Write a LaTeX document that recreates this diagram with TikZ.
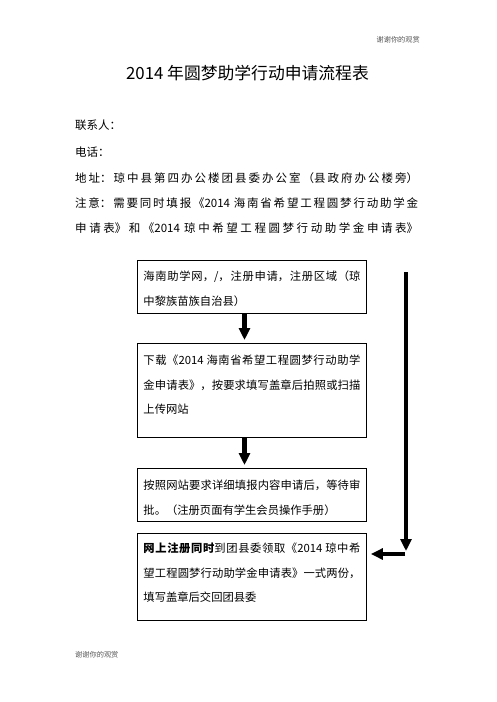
\documentclass[tikz,border=0pt]{standalone}
\usepackage{fontspec}
\setmainfont{Noto Sans CJK SC}
\usetikzlibrary{arrows.meta,positioning}
\XeTeXlinebreaklocale "zh"
\XeTeXlinebreakskip=0pt plus 2pt
\tolerance=10000
\hbadness=10000
\definecolor{pagenote}{RGB}{85,85,85}
\newcommand\fullline{\hspace{0pt plus -1fil}\null}

\begin{document}
\begin{tikzpicture}[
  x=1pt, y=-1pt,
  every node/.style={font=\fontsize{11.3}{24.6}\selectfont},
  flowbox/.style={draw, line width=0.9pt, anchor=north west, text width=217pt,
                  inner xsep=6pt, inner ysep=0pt, align=justify},
  infoline/.style={anchor=base west, inner sep=0pt, font=\fontsize{11.5}{25}\selectfont},
  spreadline/.style={infoline, text width=343pt, align=justify},
  pagenote/.style={inner sep=0pt, text=pagenote, font=\fontsize{7.2}{8}\selectfont},
  bigarrow/.style={line width=4.5pt, -{Triangle[width=11pt,length=12pt]}},
]
\useasboundingbox (0,0) rectangle (496,702);

% page header / footer
\node[pagenote, anchor=base east] (head) at (420,42.7) {谢谢你的观赏};
\node[pagenote, anchor=base west] (foot) at (75,657.7) {谢谢你的观赏};

\node[inner sep=0pt, anchor=base, font=\fontsize{16.8}{20}\selectfont] (title) at (247.5,79.4)
  {2014 年圆梦助学行动申请流程表};

% contact lines
\node[infoline] (contact) at (75,129.3) {联系人：};
\node[infoline] (phone) at (75,156.3) {电话：};
\node[spreadline] (addr) at (75,182.3) {地址：琼中县第四办公楼团县委办公室（县政府办公楼旁）\fullline};
\node[spreadline] (note) at (75,207.3) {注意：需要同时填报《2014 海南省希望工程圆梦行动助学金\linebreak
  申请表》和《2014 琼中希望工程圆梦行动助学金申请表》\fullline};

% flow boxes
\node[flowbox, text height=20.3pt, text depth=32.7pt] (reg) at (137,260)
  {海南助学网，/，注册申请，注册区域（琼\linebreak 中黎族苗族自治县）};
\node[flowbox, text height=21.3pt, text depth=72.7pt] (dl) at (137,343)
  {下载《2014 海南省希望工程圆梦行动助学\linebreak 金申请表》，按要求填写盖章后拍照或扫描\linebreak 上传网站};
\node[flowbox, text height=21.3pt, text depth=31.7pt] (fill) at (137,468)
  {按照网站要求详细填报内容申请后，等待审\linebreak 批。（注册页面有学生会员操作手册）};
\node[flowbox, text height=19.3pt, text depth=67.7pt] (form) at (137,533)
  {\textbf{网上注册同时}到团县委领取《2014 琼中希\linebreak 望工程圆梦行动助学金申请表》一式两份，\linebreak 填写盖章后交回团县委};

% arrows
\coordinate (acol) at (244.5,0);
\draw[bigarrow, shorten >=3pt] (reg.south -| acol) -- (dl.north -| acol);
\draw[bigarrow, shorten >=3pt] (dl.south -| acol) -- (fill.north -| acol);

\coordinate (rtop) at (406,272);
\coordinate (rbend) at (406,551);
\coordinate (rfoot) at (405,554);
\draw[bigarrow] (rtop) -- (rbend);
\draw[bigarrow, shorten >=4pt] (rfoot) -- (form.east |- rfoot);

\end{tikzpicture}
\end{document}
